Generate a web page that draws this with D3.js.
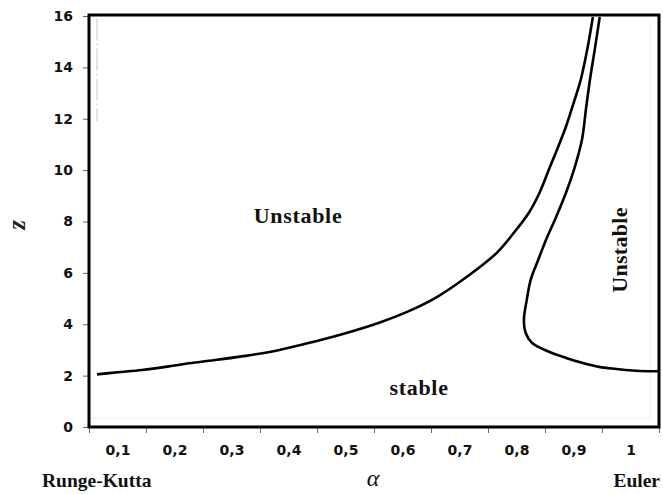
<!DOCTYPE html>
<html>
<head>
<meta charset="utf-8">
<script src="https://cdn.jsdelivr.net/npm/d3@7"></script>
<style>
  html, body { margin: 0; padding: 0; background: #fff; }
  svg { display: block; }
</style>
</head>
<body>
<svg id="chart" width="663" height="494"></svg>
<script>
// Stability boundary for the blended Runge-Kutta / Euler scheme (alpha vs z)
const lowerBoundary = [
  [0.064, 2.05], [0.10, 2.13], [0.143, 2.22], [0.19, 2.36], [0.225, 2.48],
  [0.275, 2.62], [0.325, 2.77], [0.38, 2.98], [0.441, 3.30], [0.50, 3.65],
  [0.559, 4.06], [0.61, 4.50], [0.661, 5.07], [0.71, 5.80], [0.764, 6.75],
  [0.795, 7.55], [0.822, 8.35], [0.84, 9.10], [0.857, 10.03], [0.873, 10.90],
  [0.887, 11.71], [0.90, 12.60], [0.913, 13.54], [0.925, 14.80], [0.934, 15.96]
];
const upperBoundary = [
  [0.946, 15.96], [0.938, 14.80], [0.929, 13.54], [0.922, 12.40], [0.915, 11.20],
  [0.902, 10.10], [0.887, 9.13], [0.868, 8.10], [0.852, 7.30], [0.838, 6.50],
  [0.825, 5.74], [0.818, 4.95], [0.813, 4.18], [0.816, 3.67], [0.827, 3.28],
  [0.855, 2.95], [0.887, 2.69], [0.915, 2.50], [0.945, 2.34], [0.975, 2.26],
  [1.003, 2.20], [1.03, 2.17], [1.05, 2.17]
];
const xTickLabels = ["0,1", "0,2", "0,3", "0,4", "0,5", "0,6", "0,7", "0,8", "0,9", "1"];
const xTickCenters = [0.1, 0.2, 0.3, 0.4, 0.5, 0.6, 0.7, 0.8, 0.9, 1.0];
const xTickEdges = [0.05, 0.15, 0.25, 0.35, 0.45, 0.55, 0.65, 0.75, 0.85, 0.95, 1.05];
const yTicks = [0, 2, 4, 6, 8, 10, 12, 14, 16];

const svg = d3.select("#chart");
const plot = { left: 89, right: 659, top: 16, bottom: 427 };

const x = d3.scaleLinear().domain([0.05, 1.05]).range([plot.left, plot.right]);
const y = d3.scaleLinear().domain([0, 16]).range([plot.bottom, plot.top]);

const tickFont = "'DejaVu Sans', Verdana, sans-serif";
const serif = "'Liberation Serif', 'Times New Roman', serif";

// faint inner guide lines
svg.append("line")
  .attr("x1", x(0.064)).attr("x2", x(0.064))
  .attr("y1", y(15.9)).attr("y2", y(11.9))
  .attr("stroke", "#d0d0d0").attr("stroke-width", 1.2)
  .attr("stroke-dasharray", "22,3,2,3");
svg.append("line")
  .attr("x1", plot.left + 2).attr("x2", x(1.035))
  .attr("y1", y(0.35)).attr("y2", y(0.35))
  .attr("stroke", "#ececec").attr("stroke-width", 1);
svg.append("line")
  .attr("x1", x(1.035)).attr("x2", x(1.035))
  .attr("y1", y(15.8)).attr("y2", y(0.35))
  .attr("stroke", "#f0f0f0").attr("stroke-width", 1);

// y axis
const yAxis = svg.append("g")
  .attr("transform", `translate(${plot.left},0)`)
  .call(d3.axisLeft(y).tickValues(yTicks).tickSize(6).tickPadding(10).tickFormat(d3.format("d")));
yAxis.select(".domain").remove();
yAxis.selectAll(".tick line").attr("stroke", "#666").attr("stroke-width", 1);
yAxis.selectAll(".tick text")
  .attr("font-family", tickFont).attr("font-weight", "bold")
  .attr("font-size", 14).attr("fill", "#111");

// x axis: tick marks at category edges, labels centred between them
const xAxisMarks = svg.append("g")
  .attr("transform", `translate(0,${plot.bottom})`)
  .call(d3.axisBottom(x).tickValues(xTickEdges).tickSize(6).tickFormat(""));
xAxisMarks.select(".domain").remove();
xAxisMarks.selectAll(".tick line").attr("stroke", "#666").attr("stroke-width", 1);

const xAxisLabels = svg.append("g")
  .attr("transform", `translate(0,${plot.bottom})`)
  .call(d3.axisBottom(x).tickValues(xTickCenters).tickSize(0).tickPadding(18)
    .tickFormat((d, i) => xTickLabels[i]));
xAxisLabels.select(".domain").remove();
xAxisLabels.selectAll(".tick text")
  .attr("font-family", tickFont).attr("font-weight", "bold")
  .attr("font-size", 14).attr("fill", "#111");

// boundary curves
const line = d3.line()
  .x(d => x(d[0]))
  .y(d => y(d[1]))
  .curve(d3.curveCatmullRom.alpha(0.5));

svg.append("path").datum(lowerBoundary)
  .attr("d", line).attr("fill", "none")
  .attr("stroke", "#000").attr("stroke-width", 2.6).attr("stroke-linejoin", "round");
svg.append("path").datum(upperBoundary)
  .attr("d", line).attr("fill", "none")
  .attr("stroke", "#000").attr("stroke-width", 2.6).attr("stroke-linejoin", "round");

// frame
svg.append("rect")
  .attr("x", plot.left).attr("y", plot.top - 1)
  .attr("width", plot.right - plot.left).attr("height", plot.bottom - plot.top + 1)
  .attr("fill", "none").attr("stroke", "#000").attr("stroke-width", 3);

// region labels
svg.append("text")
  .attr("x", 298).attr("y", 223)
  .attr("text-anchor", "middle")
  .attr("font-family", serif).attr("font-weight", "bold")
  .attr("font-size", 22).attr("letter-spacing", 0.7).attr("fill", "#111")
  .text("Unstable");
svg.append("text")
  .attr("x", 419).attr("y", 395)
  .attr("text-anchor", "middle")
  .attr("font-family", serif).attr("font-weight", "bold")
  .attr("font-size", 22).attr("letter-spacing", 0.7).attr("fill", "#111")
  .text("stable");
svg.append("text")
  .attr("transform", "translate(627,250) rotate(-90)")
  .attr("text-anchor", "middle")
  .attr("font-family", serif).attr("font-weight", "bold")
  .attr("font-size", 22).attr("letter-spacing", 0.3).attr("fill", "#111")
  .text("Unstable");

// axis titles
svg.append("text")
  .attr("transform", "translate(25,225) rotate(-90)")
  .attr("text-anchor", "middle")
  .attr("font-family", serif).attr("font-weight", "bold").attr("font-style", "italic")
  .attr("font-size", 25).attr("fill", "#222")
  .text("z");
svg.append("text")
  .attr("x", 373).attr("y", 486)
  .attr("text-anchor", "middle")
  .attr("font-family", serif).attr("font-style", "italic")
  .attr("font-size", 24).attr("fill", "#111")
  .text("α");
svg.append("text")
  .attr("x", 42).attr("y", 487)
  .attr("font-family", serif).attr("font-weight", "bold")
  .attr("font-size", 19.5).attr("fill", "#111")
  .text("Runge-Kutta");
svg.append("text")
  .attr("x", 660).attr("y", 487)
  .attr("text-anchor", "end")
  .attr("font-family", serif).attr("font-weight", "bold")
  .attr("font-size", 19.5).attr("fill", "#111")
  .text("Euler");
</script>
</body>
</html>
